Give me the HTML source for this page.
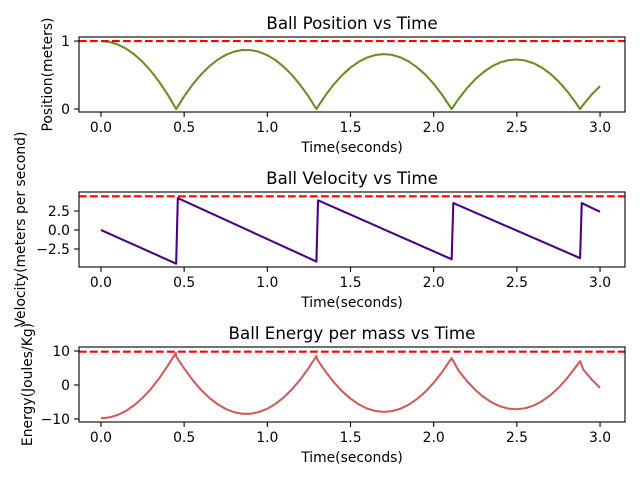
<!DOCTYPE html>
<html><head><meta charset="utf-8"><style>
body{margin:0;background:#fff}
svg{font-family:"DejaVu Sans","Liberation Sans",sans-serif}
</style></head><body>
<svg id="chart" width="640" height="480" xmlns="http://www.w3.org/2000/svg"></svg>
<script>
const posT=[0,0.05,0.1,0.15,0.2,0.25,0.3,0.35,0.4,0.45,0.452,0.5,0.55,0.6,0.65,0.7,0.75,0.8,0.85,0.9,0.95,1.0,1.05,1.1,1.15,1.2,1.25,1.295,1.3,1.35,1.4,1.45,1.5,1.55,1.6,1.65,1.7,1.75,1.8,1.85,1.9,1.95,2.0,2.05,2.1,2.108,2.15,2.2,2.25,2.3,2.35,2.4,2.45,2.5,2.55,2.6,2.65,2.7,2.75,2.8,2.85,2.88,2.9,2.95,3.0];
const posY=[1,0.988,0.951,0.890,0.804,0.694,0.559,0.400,0.216,0.008,0,0.187,0.358,0.504,0.626,0.723,0.796,0.844,0.868,0.867,0.842,0.792,0.718,0.618,0.496,0.347,0.176,0,0.020,0.204,0.364,0.499,0.610,0.696,0.758,0.795,0.808,0.797,0.760,0.700,0.614,0.505,0.371,0.212,0.029,0,0.150,0.307,0.438,0.545,0.628,0.686,0.720,0.729,0.714,0.674,0.610,0.521,0.407,0.269,0.107,0,0.066,0.214,0.337];
const energyE=[-9.8,-9.56,-8.84,-7.64,-5.96,-3.80,-1.16,1.96,5.57,9.4,8.4,4.87,1.52,-1.35,-3.73,-5.64,-7.06,-8.01,-8.48,-8.46,-7.96,-6.99,-5.54,-3.60,-1.18,1.72,5.09,8.54,7.53,3.92,0.79,-1.86,-4.03,-5.73,-6.94,-7.67,-7.92,-7.69,-6.99,-5.80,-4.13,-1.98,0.65,3.76,7.36,7.92,4.20,1.13,-1.44,-3.55,-5.17,-6.30,-6.97,-7.14,-6.85,-6.06,-4.81,-3.06,-0.85,1.86,5.05,7.0,4.49,1.59,-0.84];
const velT=[0,0.452,0.462,1.295,1.305,2.108,2.118,2.88,2.89,3.0];
const velV=[0,-4.43,4.20,-4.15,3.90,-3.85,3.55,-3.70,3.55,2.40];
const xTicks=[0,0.5,1,1.5,2,2.5,3];
const xTickLabels=["0.0","0.5","1.0","1.5","2.0","2.5","3.0"];
const posTicks=[0,1],posTickLabels=["0","1"];
const velTicks=[-2.5,0,2.5],velTickLabels=["−2.5","0.0","2.5"];
const enTicks=[-10,0,10],enTickLabels=["−10","0","10"];
const posMax=1,velMax=4.43,enMax=9.8;

const NS="http://www.w3.org/2000/svg",svg=document.getElementById('chart');
function mk(tag,attrs,parent){const e=document.createElementNS(NS,tag);for(const k in attrs)e.setAttribute(k,attrs[k]);(parent||svg).appendChild(e);return e;}
const L=79,R=625;
const xs=t=>L+(t-(-0.132))/(3.15-(-0.132))*(R-L);
function panel(name,top,bot,ymin,ymax,xsArr,ysArr,color,yTicks,yLabels,maxLine,title,ylabel,ylx){
  const g=mk('g',{});
  
  
  const ys=v=>bot-(v-ymin)/(ymax-ymin)*(bot-top);
  const d=xsArr.map((t,i)=>(i?'L':'M')+xs(t).toFixed(2)+','+ys(ysArr[i]).toFixed(2)).join('');
  const ln=mk('path',{d:d,fill:'none',stroke:color,'stroke-width':2.08,'stroke-linejoin':'round'},g);
  
  
  const ml=mk('line',{x1:L,x2:R,y1:ys(maxLine),y2:ys(maxLine),stroke:'#ff0000','stroke-width':2.08,'stroke-dasharray':'7.7,3.3'},g);
  
  
  const fr=mk('rect',{x:L,y:top,width:R-L,height:bot-top,fill:'none',stroke:'#000','stroke-width':1.1},g);
  
  
  xTicks.forEach((t,i)=>{
    mk('line',{x1:xs(t),x2:xs(t),y1:bot,y2:bot+4.9,stroke:'#000','stroke-width':1.1},g);
    const tx=mk('text',{x:xs(t),y:bot+20,'font-size':13.9,'text-anchor':'middle'},g);tx.textContent=xTickLabels[i];
    
    
  });
  yTicks.forEach((v,i)=>{
    mk('line',{x1:L-4.9,x2:L,y1:ys(v),y2:ys(v),stroke:'#000','stroke-width':1.1},g);
    const tx=mk('text',{x:L-9,y:ys(v)+5,'font-size':13.9,'text-anchor':'end'},g);tx.textContent=yLabels[i];
    
    
  });
  const tt=mk('text',{x:(L+R)/2,y:top-8,'font-size':16.7,'text-anchor':'middle'},g);tt.textContent=title;
  
  
  const xl=mk('text',{x:(L+R)/2,y:bot+40,'font-size':13.9,'text-anchor':'middle'},g);xl.textContent='Time(seconds)';
  
  
  const cy=(top+bot)/2;
  const yl=mk('text',{x:ylx,y:cy,'font-size':13.9,'text-anchor':'middle',transform:`rotate(-90 ${ylx} ${cy})`},g);yl.textContent=ylabel;
  
  
}
panel('position',37,112,-0.044,1.06,posT,posY,'#6b8e23',posTicks,posTickLabels,posMax,'Ball Position vs Time','Position(meters)',52);
panel('velocity',192,267,-4.87,5.0,velT,velV,'#4b0082',velTicks,velTickLabels,velMax,'Ball Velocity vs Time','Velocity(meters per second)',25);
panel('energy',347,422,-10.9,11.18,posT,energyE,'#cd5c5c',enTicks,enTickLabels,enMax,'Ball Energy per mass vs Time','Energy(Joules/Kg)',32);
</script>
</body></html>
